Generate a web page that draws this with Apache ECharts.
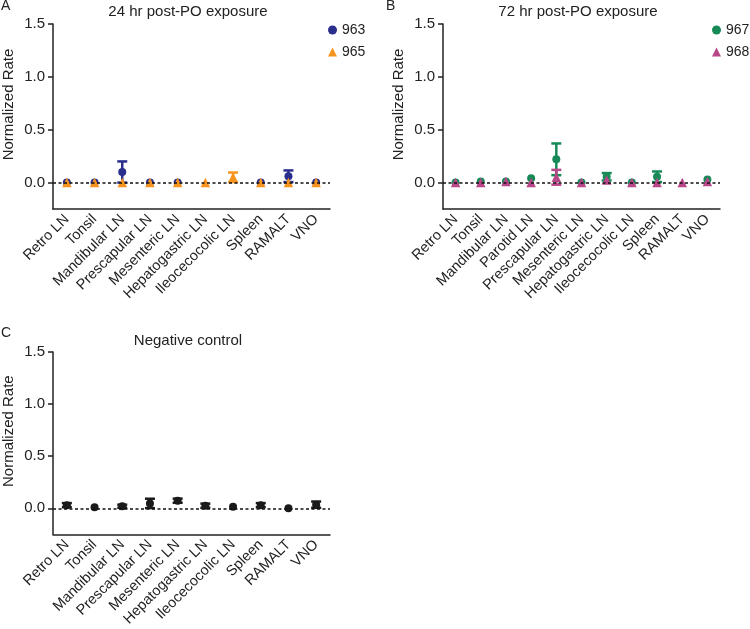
<!DOCTYPE html>
<html>
<head>
<meta charset="utf-8">
<script src="https://cdn.jsdelivr.net/npm/echarts@6/dist/echarts.min.js"></script>
<style>
  html, body { margin: 0; padding: 0; background: #fff; }
  #chart { width: 750px; height: 629px; }
</style>
</head>
<body>
<div id="chart"></div>
<script>
// categories
const categoriesA = ['Retro LN', 'Tonsil', 'Mandibular LN', 'Prescapular LN', 'Mesenteric LN',
  'Hepatogastric LN', 'Ileocecocolic LN', 'Spleen', 'RAMALT', 'VNO'];
const categoriesB = ['Retro LN', 'Tonsil', 'Mandibular LN', 'Parotid LN', 'Prescapular LN',
  'Mesenteric LN', 'Hepatogastric LN', 'Ileocecocolic LN', 'Spleen', 'RAMALT', 'VNO'];
const categoriesC = ['Retro LN', 'Tonsil', 'Mandibular LN', 'Prescapular LN', 'Mesenteric LN',
  'Hepatogastric LN', 'Ileocecocolic LN', 'Spleen', 'RAMALT', 'VNO'];

// panel A: 24 hr
const mean963 = [0, 0, 0.10, 0, 0, null, null, 0, 0.06, 0];
const sd963   = [0, 0, 0.10, 0, 0, null, null, 0, 0.055, 0];
const mean965 = [0, 0, 0, 0, 0, 0, 0.05, 0, 0, 0];
const sd965   = [0, 0, 0, 0, 0, 0, 0.045, 0, 0, 0];

// panel B: 72 hr
const mean967 = [0, 0.01, 0.01, 0.04, 0.22, 0, 0.055, 0, 0.055, null, 0.03];
const sd967   = [0, 0, 0, 0, 0.15, 0, 0.035, 0, 0.05, null, 0];
const mean968 = [0, 0, 0.01, 0, 0.05, 0, 0.025, 0, 0, 0, 0.01];
const sd968   = [0, 0, 0, 0, 0.07, 0, 0, 0, 0, 0, 0];

// panel C: negative control
const meanNeg = [0.03, 0.01, 0.02, 0.047, 0.073, 0.025, 0.015, 0.03, 0, 0.035];
const sdNeg   = [0.02, 0, 0.015, 0.045, 0.02, 0.02, 0, 0.02, 0, 0.03];

const yTicks = [0, 0.5, 1, 1.5];

const FONT = '"Liberation Sans", Arial, sans-serif';
const INK = '#222';

function points(means) {
  return means.map((m, i) => (m === null ? null : [i, m])).filter(d => d);
}

function bars(means, sds) {
  return means
    .map((m, i) => (m === null || !sds[i] ? null : [i, m - sds[i], m + sds[i]]))
    .filter(d => d);
}

function errorSeries(name, idx, data, color) {
  return {
    name: name,
    type: 'custom',
    xAxisIndex: idx,
    yAxisIndex: idx,
    z: 3,
    silent: true,
    data: data,
    renderItem: (params, api) => {
      const x = api.value(0);
      const lo = api.coord([x, api.value(1)]);
      const hi = api.coord([x, api.value(2)]);
      const w = 5;
      const style = { stroke: color, lineWidth: 2.5 };
      return {
        type: 'group',
        children: [
          { type: 'line', shape: { x1: lo[0], y1: lo[1], x2: hi[0], y2: hi[1] }, style },
          { type: 'line', shape: { x1: hi[0] - w, y1: hi[1], x2: hi[0] + w, y2: hi[1] }, style },
          { type: 'line', shape: { x1: lo[0] - w, y1: lo[1], x2: lo[0] + w, y2: lo[1] }, style }
        ]
      };
    }
  };
}

function zeroLine() {
  return {
    silent: true,
    symbol: 'none',
    label: { show: false },
    lineStyle: { type: [3, 2.5], color: '#111', width: 1.5 },
    data: [{ yAxis: 0 }]
  };
}

function dotSeries(name, idx, data, color, symbol, size, withLine) {
  const s = {
    name: name,
    type: 'scatter',
    xAxisIndex: idx,
    yAxisIndex: idx,
    symbol: symbol,
    symbolSize: size,
    z: 4,
    itemStyle: { color: color, opacity: 1 },
    data: data
  };
  if (withLine) s.markLine = zeroLine();
  return s;
}

function xAxis(idx, cats) {
  return {
    type: 'category',
    gridIndex: idx,
    data: cats,
    boundaryGap: true,
    axisLine: { onZero: false, lineStyle: { color: INK, width: 1.5 } },
    axisTick: { alignWithLabel: true, length: 5, lineStyle: { color: INK, width: 1.5 } },
    axisLabel: { interval: 0, rotate: 45, margin: 8, fontSize: 14.5, color: INK, fontFamily: FONT }
  };
}

function yAxis(idx) {
  return {
    type: 'value',
    gridIndex: idx,
    min: -0.25,
    max: 1.5,
    name: 'Normalized Rate',
    nameLocation: 'middle',
    nameGap: 37,
    nameTextStyle: { fontSize: 15, color: INK, fontFamily: FONT, padding: [0, 0, 0, 24] },
    splitLine: { show: false },
    axisLine: { show: true, lineStyle: { color: INK, width: 1.5 } },
    axisTick: { show: true, length: 5, customValues: yTicks, lineStyle: { color: INK, width: 1.5 } },
    axisLabel: {
      customValues: yTicks,
      fontSize: 15, color: INK, fontFamily: FONT, margin: 8,
      formatter: v => v.toFixed(1)
    }
  };
}

function label(text, x, y, size, align) {
  return {
    type: 'text',
    x: x, y: y,
    style: {
      text: text, fill: INK, font: size + 'px ' + FONT,
      textAlign: align, textVerticalAlign: 'middle'
    }
  };
}

const chart = echarts.init(document.getElementById('chart'));

chart.setOption({
  animation: false,
  textStyle: { fontFamily: FONT },
  grid: [
    { left: 52, top: 24, width: 278, height: 185 },
    { left: 443, top: 24, width: 277, height: 185 },
    { left: 52, top: 352, width: 278, height: 186 }
  ],
  xAxis: [xAxis(0, categoriesA), xAxis(1, categoriesB), xAxis(2, categoriesC)],
  yAxis: [yAxis(0), yAxis(1), yAxis(2)],
  legend: [
    {
      orient: 'vertical', left: 323, top: 18, itemWidth: 9, itemHeight: 9, itemGap: 8,
      textStyle: { fontSize: 14, color: INK, fontFamily: FONT },
      data: ['963', '965']
    },
    {
      orient: 'vertical', left: 707, top: 18, itemWidth: 9, itemHeight: 9, itemGap: 8,
      textStyle: { fontSize: 14, color: INK, fontFamily: FONT },
      data: ['967', '968']
    }
  ],
  graphic: [
    label('A', 1, 6, 14, 'left'),
    label('B', 386, 6, 14, 'left'),
    label('C', 1, 333, 14, 'left'),
    label('24 hr post-PO exposure', 188, 12, 15, 'center'),
    label('72 hr post-PO exposure', 578, 12, 15, 'center'),
    label('Negative control', 188, 341, 15, 'center')
  ],
  series: [
    errorSeries('963 sd', 0, bars(mean963, sd963), '#2b2f8c'),
    errorSeries('965 sd', 0, bars(mean965, sd965), '#f7941d'),
    dotSeries('963', 0, points(mean963), '#2b2f8c', 'circle', 8, true),
    dotSeries('965', 0, points(mean965), '#f7941d', 'triangle', 9.5, false),

    errorSeries('967 sd', 1, bars(mean967, sd967), '#178a57'),
    errorSeries('968 sd', 1, bars(mean968, sd968), '#b8478a'),
    dotSeries('967', 1, points(mean967), '#178a57', 'circle', 8, true),
    dotSeries('968', 1, points(mean968), '#b8478a', 'triangle', 9.5, false),

    errorSeries('neg sd', 2, bars(meanNeg, sdNeg), '#1a1a1a'),
    dotSeries('Negative', 2, points(meanNeg), '#1a1a1a', 'circle', 8, true)
  ]
});
</script>
</body>
</html>
